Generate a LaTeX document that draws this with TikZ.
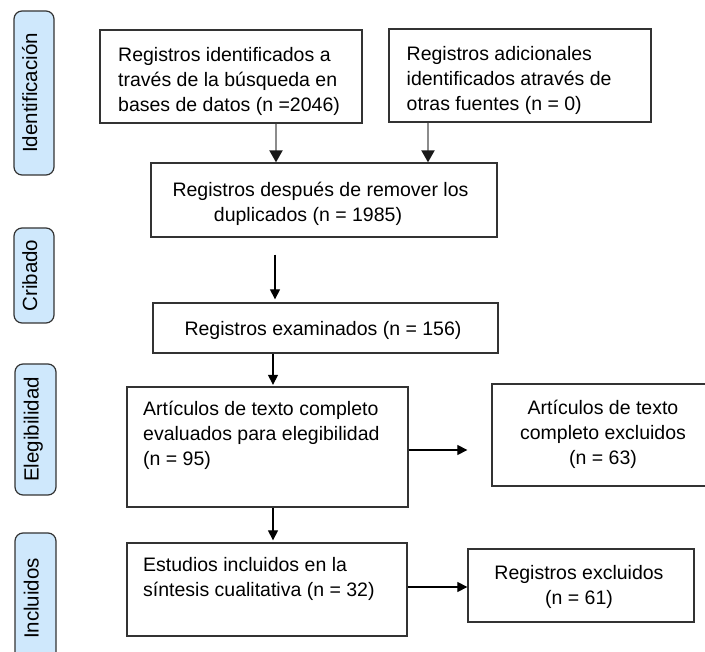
\documentclass[tikz,border=0pt]{standalone}
\usepackage{fontspec}
\setmainfont{Liberation Sans}
\usetikzlibrary{arrows.meta}
\definecolor{boxline}{HTML}{333333}
\definecolor{sideblue}{HTML}{CFE8FC}
\definecolor{shaftgray}{HTML}{8C8C8C}
\begin{document}
\begin{tikzpicture}[x=1pt,y=-1pt,
  box/.style={draw=boxline, line width=1.3pt, inner sep=0pt},
  txt/.style={inner sep=0pt, font=\fontsize{19.5}{25}\selectfont, text=black},
  side/.style={draw=boxline, fill=sideblue, line width=1.2pt, rounded corners=8pt,
    inner sep=0pt, rotate=90, font=\fontsize{20.5}{24}\selectfont,
    text height=13pt, text depth=7pt, text=black},
  arr/.style={line width=1.2pt, -{Triangle[length=10pt,width=10pt]}},
  garr/.style={draw=shaftgray, line width=2pt, -{Triangle[length=12pt,width=13pt,color=black!90]}}
]
\useasboundingbox (0,0) rectangle (705,652);
\clip (0,0) rectangle (705,652);

% side labels
\node[side, minimum width=164pt, minimum height=40pt] (S1) at (34,93) {Identificación};
\node[side, minimum width=95pt, minimum height=40pt] (S2) at (34,275.5) {Cribado};
\node[side, minimum width=131pt, minimum height=41pt] (S3) at (35.5,429.5) {Elegibilidad};
\node[side, minimum width=131pt, minimum height=41pt] (S4) at (35.5,598.5) {Incluidos};

% boxes
\node[box, minimum width=262pt, minimum height=93pt] (A) at (231,76.5) {};
\node[box, minimum width=262pt, minimum height=93pt] (B) at (520,75.5) {};
\node[box, minimum width=346pt, minimum height=74pt] (C) at (324,200) {};
\node[box, minimum width=345pt, minimum height=50pt] (D) at (325.5,328) {};
\node[box, minimum width=281pt, minimum height=120pt] (E) at (267.5,447) {};
\node[box, minimum width=222pt, minimum height=102pt] (F) at (603,435) {};
\node[box, minimum width=280pt, minimum height=93pt] (G) at (267,589.5) {};
\node[box, minimum width=226pt, minimum height=73pt] (H) at (581,585.5) {};

% texts
\node[txt, anchor=north west, align=left] (At) at (118,43.5)
  {\strut Registros identificados a\\través de la búsqueda en\\bases de datos (n =2046)};
\node[txt, anchor=north west, align=left] (Bt) at (406.5,42.5)
  {\strut Registros adicionales\\identificados através de\\otras fuentes (n = 0)};
\node[txt, anchor=north, align=center] (Ct) at (320.5,178.5)
  {\strut Registros después de remover los\\duplicados (n = 1985)\hspace*{25pt}};
\node[txt, anchor=north, align=center] (Dt) at (323,317.5)
  {\strut Registros examinados (n = 156)};
\node[txt, anchor=north west, align=left] (Et) at (143,397.5)
  {\strut Artículos de texto completo\\evaluados para elegibilidad\\(n = 95)};
\node[txt, anchor=north, align=center] (Ft) at (603,396.5)
  {\strut Artículos de texto\\completo excluidos\\(n = 63)};
\node[txt, anchor=north west, align=left] (Gt) at (143,554)
  {\strut Estudios incluidos en la\\síntesis cualitativa (n = 32)};
\node[txt, anchor=north, align=center] (Ht) at (579,561.5)
  {\strut Registros excluidos\\(n = 61)};

% connector columns / rows
\coordinate (colA) at (276,0);
\coordinate (colB) at (428,0);
\coordinate (colD) at (275,0);
\coordinate (colE) at (273,0);
\coordinate (rowEF) at (0,450);
\coordinate (rowGH) at (0,587);

% connectors
\draw[garr] (A.south -| colA) -- (C.north -| colA);
\draw[garr] (B.south -| colB) -- (C.north -| colB);
\draw[arr, shorten <=17pt, shorten >=3pt] (C.south -| colD) -- (D.north -| colD);
\draw[arr, shorten >=1.5pt] (D.south -| colE) -- (E.north -| colE);
\draw[arr, shorten >=2pt] (E.south -| colE) -- (G.north -| colE);
\draw[arr, shorten >=24pt] (E.east |- rowEF) -- (F.west |- rowEF);
\draw[arr] (G.east |- rowGH) -- (H.west |- rowGH);
\end{tikzpicture}
\end{document}
